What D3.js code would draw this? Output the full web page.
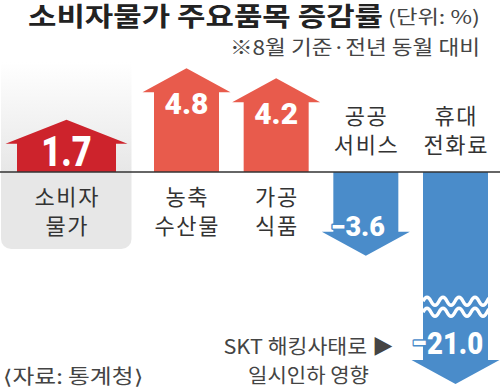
<!DOCTYPE html>
<html>
<head>
<meta charset="utf-8">
<script src="https://cdn.jsdelivr.net/npm/d3@7"></script>
<style>
  body { margin: 0; background: #fff; }
  svg { display: block; }
  text { font-family: "Noto Sans CJK KR", "Noto Sans", sans-serif; }
  .num { font-family: Roboto, "Liberation Sans", sans-serif; font-weight: 900; }
</style>
</head>
<body>
<div id="chart"></div>
<script>
// 소비자물가 주요품목 증감률 (8월, 전년 동월 대비)
var categories = ["소비자물가", "농축수산물", "가공식품", "공공서비스", "휴대전화료"];
var labelLines = [["소비자", "물가"], ["농축", "수산물"], ["가공", "식품"], ["공공", "서비스"], ["휴대", "전화료"]];
var values = [1.7, 4.8, 4.2, -3.6, -21.0];
var valueText = ["1.7", "4.8", "4.2", "−3.6", "−21.0"];
var noteLines = ["SKT 해킹사태로 ▶", "일시인하 영향"];

var width = 500;
var height = 389;
var breakAt = -8;      // 축 생략 구간 시작

var svg = d3.select("#chart").append("svg").attr("width", width).attr("height", height);

// 가로 위치: 첫 항목(전체)만 따로 넓게
var x = d3.scaleLinear().domain([0, 1, 4]).range([66.5, 186.5, 455.5]);
// 세로: -8 아래는 생략(물결)
var y = d3.scaleLinear().domain([-21, breakAt, 5]).range([360, 304.8, 89]);
var y0 = y(0);

function bodyWidth(i) { return i === 0 ? 99 : 65; }
function color(d, i) {
    if (i === 0) return "#cd232c";
    return d >= 0 ? "#e85b4c" : "#4a8cca";
}
var headH = 24;
var headOver = 11.5;

// 배경 패널 (소비자물가)
var grad = svg.append("defs").append("linearGradient")
    .attr("id", "panelGrad")
    .attr("gradientUnits", "userSpaceOnUse")
    .attr("x1", 0).attr("x2", 0).attr("y1", 62).attr("y2", y0);
grad.append("stop").attr("offset", 0).attr("stop-color", "#ffffff");
grad.append("stop").attr("offset", 1).attr("stop-color", "#e7e7e7");

svg.append("rect")
    .attr("x", 1)
    .attr("y", 40)
    .attr("width", x(0) + bodyWidth(1) - 1)
    .attr("height", 249 - 40)
    .attr("rx", 10)
    .attr("fill", "url(#panelGrad)");

// 화살표
function arrowPath(d, i) {
    var xc = x(i), w = bodyWidth(i);
    var xl = xc - w / 2, xr = xc + w / 2;
    var yv = y(d);
    var tip = d >= 0 ? yv - headH : yv + headH;
    return "M" + xl + "," + y0 + "V" + yv + "H" + (xl - headOver) +
        "L" + xc + "," + tip + "L" + (xr + headOver) + "," + yv +
        "H" + xr + "V" + y0 + "Z";
}

svg.selectAll(".arrow")
    .data(values)
    .enter()
    .append("path")
    .attr("class", "arrow")
    .attr("fill", color)
    .attr("d", arrowPath);

// 물결 (생략 표시)
values.forEach(function (d, i) {
    if (d >= breakAt) return;
    var w = bodyWidth(i), xl = x(i) - w / 2;
    [y(breakAt) - 3.5, y(breakAt) + 7.5].forEach(function (wy) {
        var p = d3.path();
        p.moveTo(xl, wy);
        var step = 8, k = 0;
        for (var xx = xl; xx < xl + w - 0.1; xx += step, k++) {
            p.quadraticCurveTo(xx + step / 2, wy + (k % 2 ? 8 : -8), xx + step, wy);
        }
        svg.append("path")
            .attr("d", p.toString())
            .attr("fill", "none")
            .attr("stroke", "#fff")
            .attr("stroke-width", 3.4);
    });
});

// 기준선
svg.append("line")
    .attr("x1", 0).attr("x2", width)
    .attr("y1", y0).attr("y2", y0)
    .attr("stroke", "#333")
    .attr("stroke-width", 1.6);

// 수치
svg.selectAll(".num")
    .data(values)
    .enter()
    .append("text")
    .attr("class", "num")
    .attr("text-anchor", "middle")
    .attr("fill", "#fff")
    .attr("stroke", function (d, i) { return color(d, i); })
    .attr("stroke-width", 3)
    .attr("stroke-linejoin", "round")
    .attr("paint-order", "stroke")
    .attr("font-size", function (d, i) { return i === 0 ? 42 : (d < breakAt ? 32 : (d < 0 ? 27 : 30)); })
    .attr("x", function (d, i) { return d < 0 ? x(i) - 8 : x(i); })
    .attr("y", function (d) {
        if (d >= 0) return y(d) + 22;
        return d < breakAt ? y(d) - 6 : y(d) + 4;
    })
    .text(function (d, i) { return valueText[i]; })
    .each(function (d, i) {
        // 큰 숫자는 좁은 글꼴처럼 가로로 줄임
        var squeeze = i === 0 ? 0.82 : (d < breakAt ? 0.86 : 1);
        if (squeeze < 1) {
            d3.select(this)
                .attr("textLength", this.getComputedTextLength() * squeeze)
                .attr("lengthAdjust", "spacingAndGlyphs");
        }
    });

// 항목 이름
labelLines.forEach(function (lines, i) {
    var d = values[i];
    lines.forEach(function (s, j) {
        svg.append("text")
            .attr("class", "cat")
            .attr("text-anchor", "middle")
            .attr("fill", "#333")
            .attr("font-size", "22px")
            .attr("letter-spacing", "1.6px")
            .attr("x", x(i) + 0.8)
            .attr("y", d >= 0 ? y0 + 32.5 + j * 29 : y0 - 48 + j * 29)
            .text(s);
    });
});

// 주석
var noteWidth = [170, 121];
noteLines.forEach(function (s, j) {
    svg.append("text")
        .attr("text-anchor", "middle")
        .attr("fill", "#444")
        .attr("font-size", "20px")
        .attr("x", x(4) - 147)
        .attr("y", 354 + j * 29)
        .attr("textLength", noteWidth[j])
        .attr("lengthAdjust", "spacingAndGlyphs")
        .text(s);
});

// 제목
svg.append("text")
    .attr("x", 28).attr("y", 25.5)
    .attr("fill", "#222")
    .attr("font-size", "26px")
    .attr("font-weight", 700)
    .attr("textLength", 355)
    .attr("lengthAdjust", "spacingAndGlyphs")
    .text("소비자물가 주요품목 증감률");
svg.append("text")
    .attr("x", 388).attr("y", 24)
    .attr("fill", "#444")
    .attr("font-size", "19px")
    .attr("textLength", 92)
    .attr("lengthAdjust", "spacingAndGlyphs")
    .text("(단위: %)");
svg.append("text")
    .attr("x", 230).attr("y", 55)
    .attr("fill", "#444")
    .attr("font-size", "20px")
    .attr("textLength", 250)
    .attr("lengthAdjust", "spacingAndGlyphs")
    .text("※8월 기준·전년 동월 대비");

// 출처
svg.append("text")
    .attr("x", 3).attr("y", 384)
    .attr("fill", "#444")
    .attr("font-size", "20px")
    .attr("textLength", 140)
    .attr("lengthAdjust", "spacingAndGlyphs")
    .text("⟨자료: 통계청⟩");
</script>
</body>
</html>
